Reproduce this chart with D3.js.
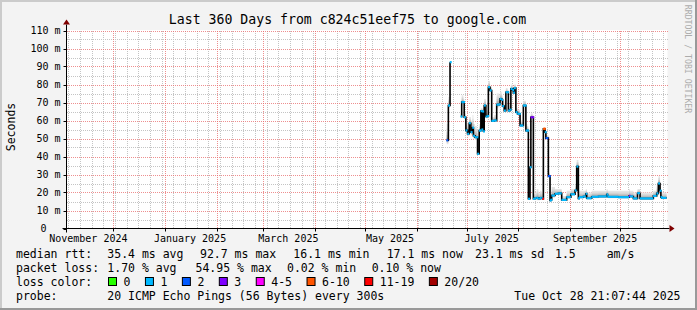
<!DOCTYPE html>
<html><head><meta charset="utf-8">
<script src="https://cdn.jsdelivr.net/npm/d3@7/dist/d3.min.js"></script>
<style>html,body{margin:0;padding:0;background:#fff} svg{display:block}</style>
</head><body>
<script>
// ---------------- data ----------------
const titleText = "Last 360 Days from c824c51eef75 to google.com";
const yAxisTitle = "Seconds";
const yTickValues = [0,10,20,30,40,50,60,70,80,90,100,110];
const yTickLabels = ["0","10 m","20 m","30 m","40 m","50 m","60 m","70 m","80 m","90 m","100 m","110 m"];
const monthLabels = ["November 2024","January 2025","March 2025","May 2025","July 2025","September 2025"];
const monthLabelDates = ["2024-11-16 00","2025-01-16 00","2025-03-16 00","2025-05-16 00","2025-07-16 00","2025-09-16 00"];
const rangeStart = "2024-11-02 21:07:44";
const rangeEnd = "2025-10-28 21:07:44";

// median rtt per consolidated sample (ms), loss class index, upper smoke edge (ms); null = no data
const sampleTimes = ["2025-06-19 00","2025-06-20 00","2025-06-21 00","2025-06-22 00",
 "2025-06-27 12","2025-06-28 00","2025-06-29 00","2025-06-29 12","2025-06-30 12","2025-07-01 12","2025-07-02 12","2025-07-03 12",
 "2025-07-04 12","2025-07-05 00","2025-07-06 00","2025-07-07 00","2025-07-07 12","2025-07-08 12","2025-07-09 00","2025-07-09 12",
 "2025-07-10 00","2025-07-10 12","2025-07-11 00","2025-07-11 12","2025-07-12 12","2025-07-13 12","2025-07-14 00","2025-07-15 00",
 "2025-07-16 00","2025-07-17 12","2025-07-19 00","2025-07-20 12","2025-07-21 00","2025-07-22 00","2025-07-22 12","2025-07-23 12",
 "2025-07-24 12","2025-07-25 12","2025-07-26 00","2025-07-27 00","2025-07-27 12","2025-07-28 12","2025-07-29 00","2025-07-29 12",
 "2025-07-30 12","2025-07-31 12","2025-08-01 12","2025-08-02 00","2025-08-03 00","2025-08-04 00","2025-08-05 00","2025-08-05 12",
 "2025-08-06 12","2025-08-07 00","2025-08-08 00","2025-08-08 12","2025-08-09 12","2025-08-10 00","2025-08-11 00","2025-08-12 00",
 "2025-08-13 00","2025-08-14 00","2025-08-15 00","2025-08-15 12","2025-08-16 00","2025-08-16 12","2025-08-17 00","2025-08-17 12",
 "2025-08-19 00","2025-08-19 12","2025-08-20 00","2025-08-20 12","2025-08-21 00","2025-08-23 00","2025-08-25 00","2025-08-27 00",
 "2025-08-30 00","2025-09-01 12","2025-09-04 00","2025-09-05 00","2025-09-06 00","2025-09-06 12","2025-09-09 00","2025-09-10 12",
 "2025-09-11 00","2025-09-14 00","2025-09-18 00","2025-09-23 00","2025-09-23 12","2025-09-24 00","2025-09-30 00","2025-10-06 12",
 "2025-10-07 00","2025-10-09 00","2025-10-11 12","2025-10-13 00","2025-10-21 00","2025-10-23 00","2025-10-24 00","2025-10-25 00",
 "2025-10-25 12","2025-10-26 00"];
const medianMs = [49.0,68.3,92.4,null,
 62.2,70.2,70.2,61.8,54.5,52.6,58.5,53.5,
 56.0,51.5,50.7,50.7,41.5,54.4,54.4,65.2,
 55.0,65.0,54.0,68.3,62.2,62.5,78.5,76.7,
 59.8,60.0,68.8,69.0,72.0,71.5,68.0,65.5,
 75.7,75.7,65.5,66.0,77.6,77.0,75.5,78.0,
 64.6,63.7,63.7,57.2,57.2,68.3,68.3,54.4,
 54.4,16.5,34.0,61.8,61.8,16.5,16.8,17.0,
 16.6,17.0,16.8,16.5,55.4,55.4,53.5,50.2,
 29.1,29.1,15.6,16.0,18.3,19.3,19.5,15.9,
 17.4,19.0,21.1,34.4,16.7,17.4,17.8,19.3,
 16.8,17.6,17.8,18.9,17.8,17.6,17.4,18.1,
 17.8,16.7,19.6,16.7,18.1,19.5,25.0,21.0,
 17.4,17.0];
const lossClass = [2,1,1,0,
 1,1,1,1,1,1,1,1,
 1,1,1,1,1,1,1,1,
 1,1,1,1,1,1,1,1,
 1,1,1,1,1,1,1,1,
 1,1,1,1,1,1,1,1,
 1,1,1,1,1,1,1,1,
 1,1,1,3,3,1,1,1,
 1,1,1,6,5,5,1,2,
 2,2,1,1,1,1,1,1,
 1,1,1,1,1,1,1,1,
 1,1,1,1,1,1,1,3,
 1,1,1,1,1,1,1,1,
 1,1];
const smokeTopMs = [58,73,101,null,
 64,74,72,65,60,58,62,60,
 63,58,57,55,44,58,57,67,
 58,67,57,72,66,65,82,79,
 62,63,75,74,76,74,71,68,
 78,77,69,68,80,79,78,80,
 67,66,66,60,60,71,71,58,
 57,19,36,64,63,19,20,22,
 20,21,20,19,56,56,55,52,
 31,31,18,19,23,22,22,18,
 21,22,24,38,20,21,21,22,
 20,21,21,22,21,21,21,22,
 21,20,22,20,21,24,29,24,
 21,20];

const lossLabels = ["0","1","2","3","4-5","6-10","11-19","20/20"];
const lossColors = ["#26ff00","#00b8ff","#0059ff","#7e00ff","#ff00ff","#ff5500","#ff0000","#a10000"];

const legendStats1 = ["median rtt:","35.4 ms avg","92.7 ms max","16.1 ms min","17.1 ms now","23.1 ms sd","1.5","am/s"];
const legendStats2 = ["packet loss:","1.70 % avg","54.95 % max","0.02 % min","0.10 % now"];
const probeText = ["probe:","20 ICMP Echo Pings (56 Bytes) every 300s","Tue Oct 28 21:07:44 2025"];
const watermark = "RRDTOOL / TOBI OETIKER";

// ---------------- drawing ----------------
const W = 697, H = 310;
const PL = 66.5, PR = 666.5, PT = 30.5, PB = 228.5;
const parseH = d3.timeParse("%Y-%m-%d %H");
const parseS = d3.timeParse("%Y-%m-%d %H:%M:%S");
const t0 = parseS(rangeStart), t1 = parseS(rangeEnd);
const x = d3.scaleTime().domain([t0, t1]).range([PL, PR]);
const y = d3.scaleLinear().domain([0, 110]).range([PB, PT]);
const mono = "'DejaVu Sans Mono', monospace";

const svg = d3.select("body").append("svg").attr("width", W).attr("height", H);
// background with 3d frame
svg.append("rect").attr("width", W).attr("height", H).attr("fill", "#f3f3f3");
svg.append("path").attr("d", `M0,0H${W}V2H2V${H}H0Z`).attr("fill", "#cbcbcb");
svg.append("path").attr("d", `M${W},${H}H0V${H-2}H${W-2}V0H${W}Z`).attr("fill", "#999999");
// canvas
svg.append("rect").attr("x", PL).attr("y", PT - 0.5).attr("width", PR - PL + 1).attr("height", PB - PT + 0.5).attr("fill", "#ffffff");

const grid = svg.append("g").attr("shape-rendering", "crispEdges");
const minorC = "#c4c4c4", majorC = "#e86a6a";
// minor horizontal grid (every 5 ms)
d3.range(5, 111, 10).forEach(v => {
  grid.append("line").attr("x1", PL).attr("x2", PR + 1).attr("y1", Math.round(y(v)) + 0.5).attr("y2", Math.round(y(v)) + 0.5)
    .attr("stroke", minorC).attr("stroke-dasharray", "1,1");
});
// minor vertical grid (weeks)
d3.timeMonday.range(t0, t1).forEach(d => {
  const xx = Math.round(x(d)) + 0.5;
  grid.append("line").attr("x1", xx).attr("x2", xx).attr("y1", PT).attr("y2", PB)
    .attr("stroke", minorC).attr("stroke-dasharray", "1,1");
});
// major horizontal grid
yTickValues.filter(v => v > 0).forEach(v => {
  grid.append("line").attr("x1", PL).attr("x2", PR + 1).attr("y1", Math.round(y(v)) + 0.5).attr("y2", Math.round(y(v)) + 0.5)
    .attr("stroke", majorC).attr("stroke-opacity", 0.75).attr("stroke-dasharray", "1,1");
});
// major vertical grid (months)
const monthStarts = d3.timeMonth.range(t0, t1);
monthStarts.forEach(d => {
  const xx = Math.round(x(d)) + 0.5;
  grid.append("line").attr("x1", xx).attr("x2", xx).attr("y1", PT).attr("y2", PB)
    .attr("stroke", majorC).attr("stroke-opacity", 0.75).attr("stroke-dasharray", "1,1");
});

// series records
const recs = sampleTimes.map((s, i) => ({t: parseH(s), m: medianMs[i], top: smokeTopMs[i], c: lossClass[i]}));
recs.push({t: t1, m: recs[recs.length - 1].m, top: recs[recs.length - 1].top, c: recs[recs.length - 1].c});

// smoke bands (lightest outermost)
const bandF = [1, 0.72, 0.5, 0.32, 0.16];
const bandC = ["#e4e4e4", "#d6d6d6", "#c6c6c6", "#b4b4b4", "#9e9e9e"];
bandF.forEach((f, k) => {
  const area = d3.area().curve(d3.curveStepAfter)
    .defined(d => d.m != null)
    .x(d => x(d.t))
    .y0(d => y(Math.max(0, d.m - (d.top - d.m) * 0.25 * f)))
    .y1(d => y(d.m + (d.top - d.m) * f));
  svg.append("path").datum(recs).attr("d", area).attr("fill", bandC[k]);
});

// median line (black steps)
const line = d3.line().curve(d3.curveStepAfter).defined(d => d.m != null).x(d => x(d.t)).y(d => y(d.m));
svg.append("path").datum(recs).attr("d", line).attr("fill", "none").attr("stroke", "#000").attr("stroke-width", 1.6);
// loss-coloured median pieces
const pieces = svg.append("g");
recs.forEach((d, i) => {
  if (d.m == null || i === recs.length - 1) return;
  const xa = x(d.t), xb = Math.max(x(recs[i + 1].t), xa + 1.6);
  pieces.append("line").attr("x1", xa - 0.3).attr("x2", xb).attr("y1", y(d.m)).attr("y2", y(d.m))
    .attr("stroke", lossColors[d.c]).attr("stroke-width", 2.2);
});

// axes
const axisG = svg.append("g");
axisG.append("line").attr("x1", PL - 4).attr("x2", PR + 3).attr("y1", PB).attr("y2", PB).attr("stroke", "#000").attr("stroke-width", 1);
axisG.append("line").attr("x1", PL).attr("x2", PL).attr("y1", PB + 4).attr("y2", PT - 6).attr("stroke", "#000").attr("stroke-width", 1);
axisG.append("path").attr("d", `M${PR + 3},${PB - 3.5}L${PR + 8},${PB}L${PR + 3},${PB + 3.5}Z`).attr("fill", "#7f0000");
axisG.append("path").attr("d", `M${PL - 3.5},${PT - 6}L${PL},${PT - 11}L${PL + 3.5},${PT - 6}Z`).attr("fill", "#7f0000");
// ticks
yTickValues.forEach(v => {
  const yy = Math.round(y(v)) + 0.5;
  axisG.append("line").attr("x1", PL - 3).attr("x2", PL).attr("y1", yy).attr("y2", yy).attr("stroke", "#000");
});
monthStarts.forEach(d => {
  const xx = Math.round(x(d)) + 0.5;
  axisG.append("line").attr("x1", xx).attr("x2", xx).attr("y1", PB).attr("y2", PB + 3).attr("stroke", "#000");
});

// y tick labels
const txt = svg.append("g").attr("font-family", mono).attr("fill", "#000");
yTickValues.forEach((v, i) => {
  txt.append("text").attr("x", v === 0 ? 46.5 : 60.5).attr("y", y(v)).attr("dy", "0.36em")
    .attr("text-anchor", "end").attr("font-size", 10).text(yTickLabels[i]);
});
// x labels
monthLabels.forEach((l, i) => {
  txt.append("text").attr("x", x(parseH(monthLabelDates[i]))).attr("y", 241.5)
    .attr("text-anchor", "middle").attr("font-size", 10).text(l);
});
// title
txt.append("text").attr("x", 347.5).attr("y", 23.5).attr("text-anchor", "middle").attr("font-size", 13.2).text(titleText);
// y axis title
txt.append("text").attr("transform", "translate(15,127) rotate(-90)").attr("text-anchor", "middle").attr("font-size", 11.5).text(yAxisTitle);
// watermark
svg.append("text").attr("transform", "translate(684.5,59) rotate(90)").attr("text-anchor", "middle")
  .attr("font-family", mono).attr("font-size", 8.2).attr("fill", "#acacac").text(watermark);

// legend
const legX1 = [16, 107.3, 200, 293.3, 386.7, 475, 555, 606.7];
legendStats1.forEach((d, i) => {
  txt.append("text").attr("x", legX1[i]).attr("y", 258).attr("font-size", 11.5).text(d);
});
const legX2 = [16, 107.3, 195.5, 287, 371.7];
legendStats2.forEach((d, i) => {
  txt.append("text").attr("x", legX2[i]).attr("y", 272).attr("font-size", 11.5).text(d);
});
txt.append("text").attr("x", 16).attr("y", 286).attr("font-size", 11.5).text("loss color:");
let lx = 108.5;
lossLabels.forEach((l, i) => {
  svg.append("rect").attr("x", lx).attr("y", 277.5).attr("width", 8).attr("height", 8)
    .attr("fill", lossColors[i]).attr("stroke", "#000").attr("stroke-width", 1);
  const t = txt.append("text").attr("x", lx + 15).attr("y", 286).attr("font-size", 11.5).text(l);
  lx = lx + 15 + t.node().getComputedTextLength() + 15;
});
txt.append("text").attr("x", 16).attr("y", 300).attr("font-size", 11.5).text(probeText[0]);
txt.append("text").attr("x", 107.3).attr("y", 300).attr("font-size", 11.5).text(probeText[1]);
txt.append("text").attr("x", 680.5).attr("y", 300).attr("text-anchor", "end").attr("font-size", 11.5).text(probeText[2]);
</script>
</body></html>
